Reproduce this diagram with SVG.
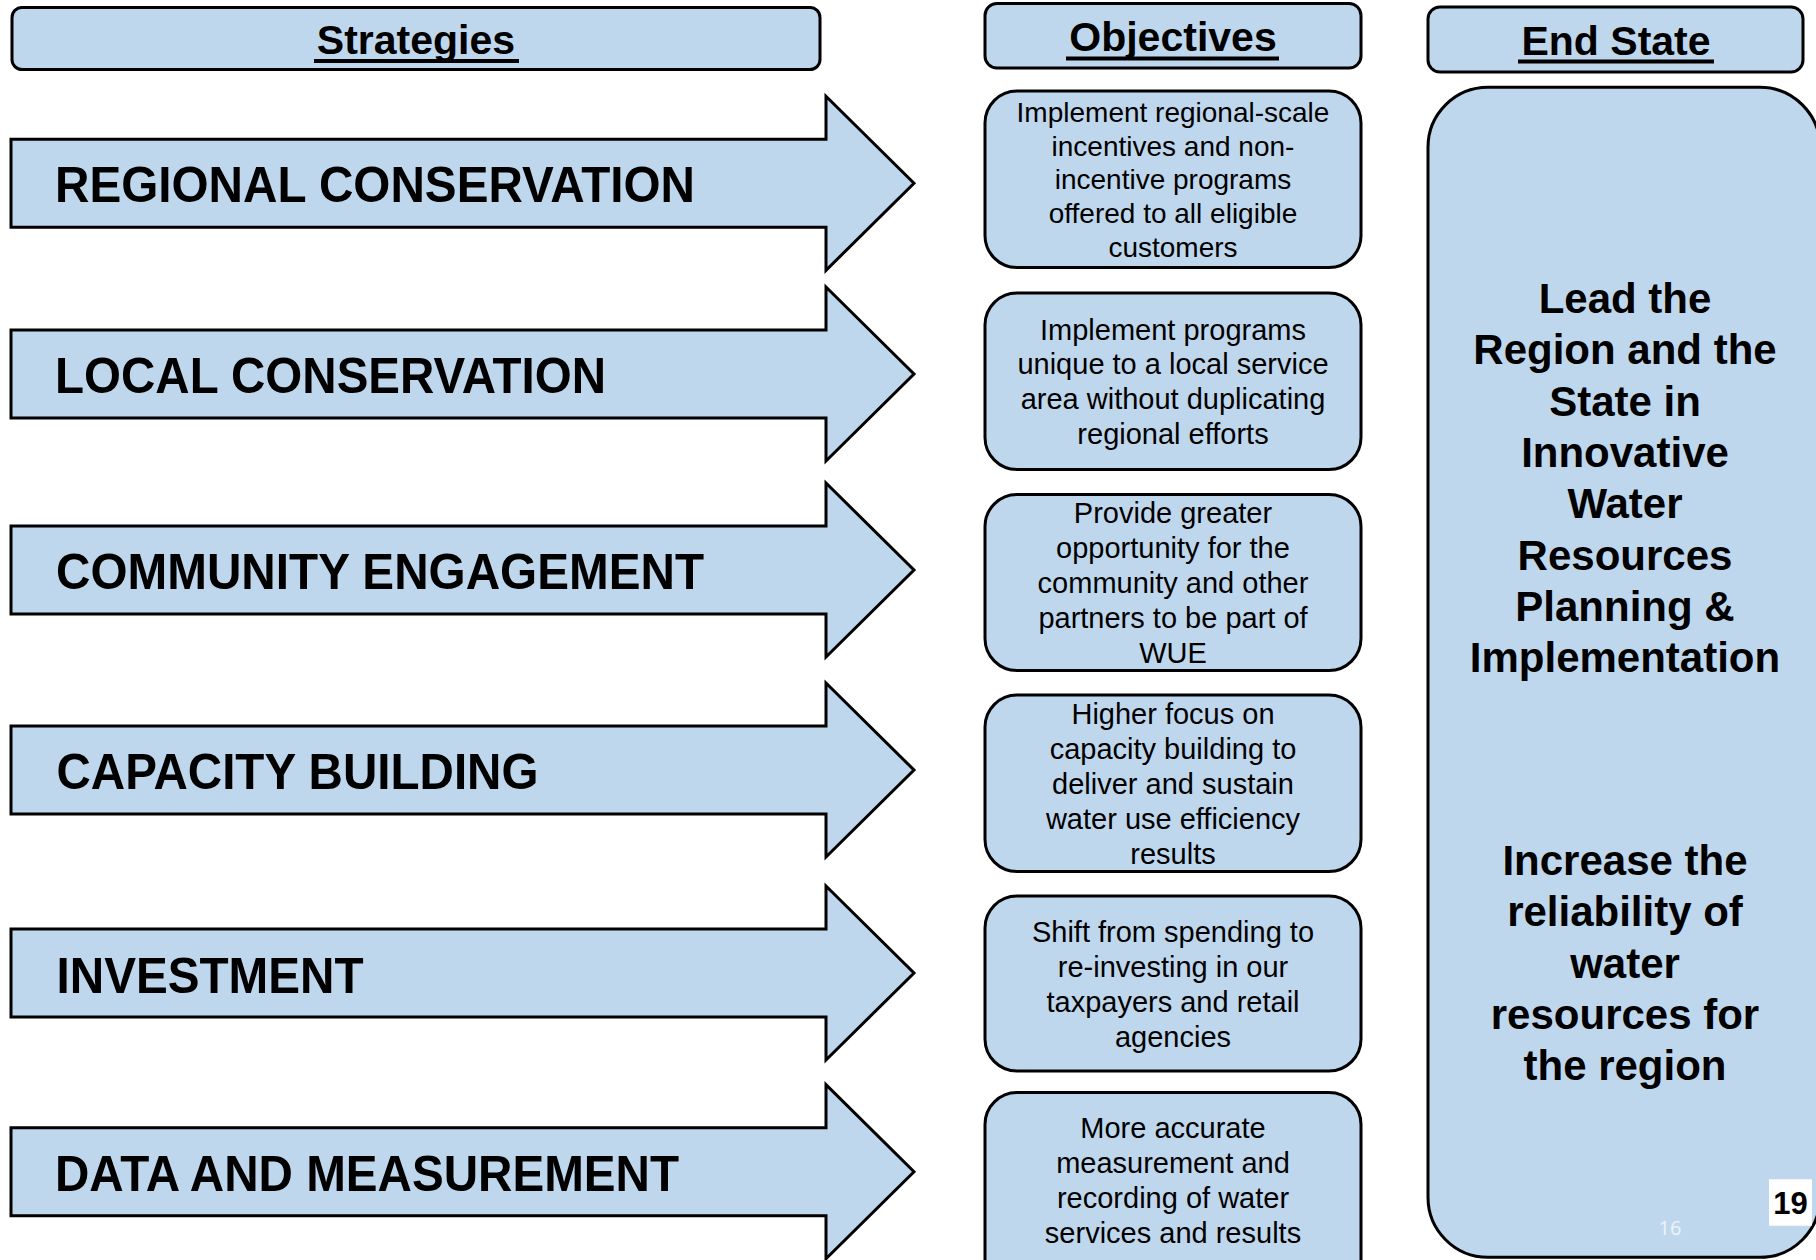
<svg xmlns="http://www.w3.org/2000/svg" width="1816" height="1260" viewBox="0 0 1816 1260">
  <defs>
    <style>
      .box { fill: #bfd7ed; stroke: #000; stroke-width: 3; }
      .arrow { fill: #bfd7ed; stroke: #000; stroke-width: 3; stroke-linejoin: miter; }
      .head { font-family: "Liberation Sans", Arial, sans-serif; font-weight: bold; font-size: 41px; fill: #000; text-anchor: middle; }
      .uline { stroke: #000; stroke-width: 4; }
      .strat { font-family: "Liberation Sans", Arial, sans-serif; font-weight: bold; font-size: 50px; fill: #000; }
      .obj { font-family: "Liberation Sans", Arial, sans-serif; font-size: 29px; fill: #000; text-anchor: middle; }
      .obj28 { font-size: 28px; }
      .end { font-family: "Liberation Sans", Arial, sans-serif; font-weight: bold; font-size: 42px; fill: #000; text-anchor: middle; }
    </style>
  </defs>
  <rect width="1816" height="1260" fill="#fff"/>

  <!-- column headers -->
  <g id="header-strategies">
    <rect class="box" x="12" y="7.5" width="808" height="62" rx="10"/>
    <text class="head" x="416" y="54">Strategies</text>
    <line class="uline" x1="314" y1="61" x2="519" y2="61"/>
  </g>
  <g id="header-objectives">
    <rect class="box" x="985" y="3.5" width="376" height="64.5" rx="12"/>
    <text class="head" x="1173" y="50.5">Objectives</text>
    <line class="uline" x1="1066" y1="58.5" x2="1279" y2="58.5"/>
  </g>
  <g id="header-end-state">
    <rect class="box" x="1428" y="7" width="375" height="65" rx="12"/>
    <text class="head" x="1616" y="55">End State</text>
    <line class="uline" x1="1518" y1="61.5" x2="1714" y2="61.5"/>
  </g>

  <!-- strategy arrows -->
  <g id="strategy-regional-conservation">
    <path class="arrow" d="M11,139.3 H826 V96.3 L914,183.3 L826,270.3 V227.3 H11 Z"/>
    <text class="strat" x="55" y="201.5" textLength="640" lengthAdjust="spacingAndGlyphs">REGIONAL CONSERVATION</text>
  </g>
  <g id="strategy-local-conservation">
    <path class="arrow" d="M11,330 H826 V287 L914,374 L826,461 V418 H11 Z"/>
    <text class="strat" x="55" y="392.5" textLength="551" lengthAdjust="spacingAndGlyphs">LOCAL CONSERVATION</text>
  </g>
  <g id="strategy-community-engagement">
    <path class="arrow" d="M11,526 H826 V483 L914,570 L826,657 V614 H11 Z"/>
    <text class="strat" x="56" y="588.5" textLength="648" lengthAdjust="spacingAndGlyphs">COMMUNITY ENGAGEMENT</text>
  </g>
  <g id="strategy-capacity-building">
    <path class="arrow" d="M11,726 H826 V683 L914,770 L826,857 V814 H11 Z"/>
    <text class="strat" x="56.5" y="789" textLength="482" lengthAdjust="spacingAndGlyphs">CAPACITY BUILDING</text>
  </g>
  <g id="strategy-investment">
    <path class="arrow" d="M11,929 H826 V886 L914,973 L826,1060 V1017 H11 Z"/>
    <text class="strat" x="56.5" y="992.5" textLength="307" lengthAdjust="spacingAndGlyphs">INVESTMENT</text>
  </g>
  <g id="strategy-data-measurement">
    <path class="arrow" d="M11,1127.7 H826 V1084.7 L914,1171.7 L826,1258.7 V1215.7 H11 Z"/>
    <text class="strat" x="55" y="1190.5" textLength="624" lengthAdjust="spacingAndGlyphs">DATA AND MEASUREMENT</text>
  </g>

  <!-- objectives: one text element per line so each line centres exactly -->
  <g id="objective-1">
    <rect class="box" x="985" y="91" width="376" height="176.5" rx="32"/>
    <text class="obj obj28" x="1173" y="122">Implement regional-scale</text>
    <text class="obj obj28" x="1173" y="155.7">incentives and non-</text>
    <text class="obj obj28" x="1173" y="189.4">incentive programs</text>
    <text class="obj obj28" x="1173" y="223.1">offered to all eligible</text>
    <text class="obj obj28" x="1173" y="256.8">customers</text>
  </g>
  <g id="objective-2">
    <rect class="box" x="985" y="293" width="376" height="176.5" rx="32"/>
    <text class="obj" x="1173" y="339.5">Implement programs</text>
    <text class="obj" x="1173" y="374.3">unique to a local service</text>
    <text class="obj" x="1173" y="409.1">area without duplicating</text>
    <text class="obj" x="1173" y="443.9">regional efforts</text>
  </g>
  <g id="objective-3">
    <rect class="box" x="985" y="494.5" width="376" height="176" rx="32"/>
    <text class="obj" x="1173" y="522.7">Provide greater</text>
    <text class="obj" x="1173" y="557.7">opportunity for the</text>
    <text class="obj" x="1173" y="592.7">community and other</text>
    <text class="obj" x="1173" y="627.7">partners to be part of</text>
    <text class="obj" x="1173" y="662.7">WUE</text>
  </g>
  <g id="objective-4">
    <rect class="box" x="985" y="695" width="376" height="176.5" rx="32"/>
    <text class="obj" x="1173" y="724.2">Higher focus on</text>
    <text class="obj" x="1173" y="759.2">capacity building to</text>
    <text class="obj" x="1173" y="794.2">deliver and sustain</text>
    <text class="obj" x="1173" y="829.2">water use efficiency</text>
    <text class="obj" x="1173" y="864.2">results</text>
  </g>
  <g id="objective-5">
    <rect class="box" x="985" y="896" width="376" height="175" rx="32"/>
    <text class="obj" x="1173" y="941.5">Shift from spending to</text>
    <text class="obj" x="1173" y="976.6">re-investing in our</text>
    <text class="obj" x="1173" y="1011.7">taxpayers and retail</text>
    <text class="obj" x="1173" y="1046.8">agencies</text>
  </g>
  <g id="objective-6">
    <rect class="box" x="985" y="1092.5" width="376" height="200" rx="32"/>
    <text class="obj" x="1173" y="1138.3">More accurate</text>
    <text class="obj" x="1173" y="1173.3">measurement and</text>
    <text class="obj" x="1173" y="1208.3">recording of water</text>
    <text class="obj" x="1173" y="1243.3">services and results</text>
  </g>

  <!-- end state -->
  <g id="end-state">
    <rect class="box" x="1428" y="87.3" width="392" height="1170" rx="60"/>
    <text class="end" x="1625" y="313">Lead the</text>
    <text class="end" x="1625" y="364.3">Region and the</text>
    <text class="end" x="1625" y="415.6">State in</text>
    <text class="end" x="1625" y="466.9">Innovative</text>
    <text class="end" x="1625" y="518.2">Water</text>
    <text class="end" x="1625" y="569.5">Resources</text>
    <text class="end" x="1625" y="620.8">Planning &amp;</text>
    <text class="end" x="1625" y="672.1">Implementation</text>
    <text class="end" x="1625" y="875">Increase the</text>
    <text class="end" x="1625" y="926.3">reliability of</text>
    <text class="end" x="1625" y="977.6">water</text>
    <text class="end" x="1625" y="1028.9">resources for</text>
    <text class="end" x="1625" y="1080.2">the region</text>
  </g>

  <!-- page numbers -->
  <g id="page-numbers">
    <text x="1670" y="1235" font-family="'Open Sans', 'Liberation Sans', sans-serif" font-size="20" fill="#edf3fa" text-anchor="middle">16</text>
    <rect x="1769" y="1179.3" width="43" height="46.4" fill="#fff"/>
    <text x="1790.5" y="1214" font-family="'Liberation Sans', Arial, sans-serif" font-weight="bold" font-size="31" fill="#000" text-anchor="middle">19</text>
  </g>
</svg>
